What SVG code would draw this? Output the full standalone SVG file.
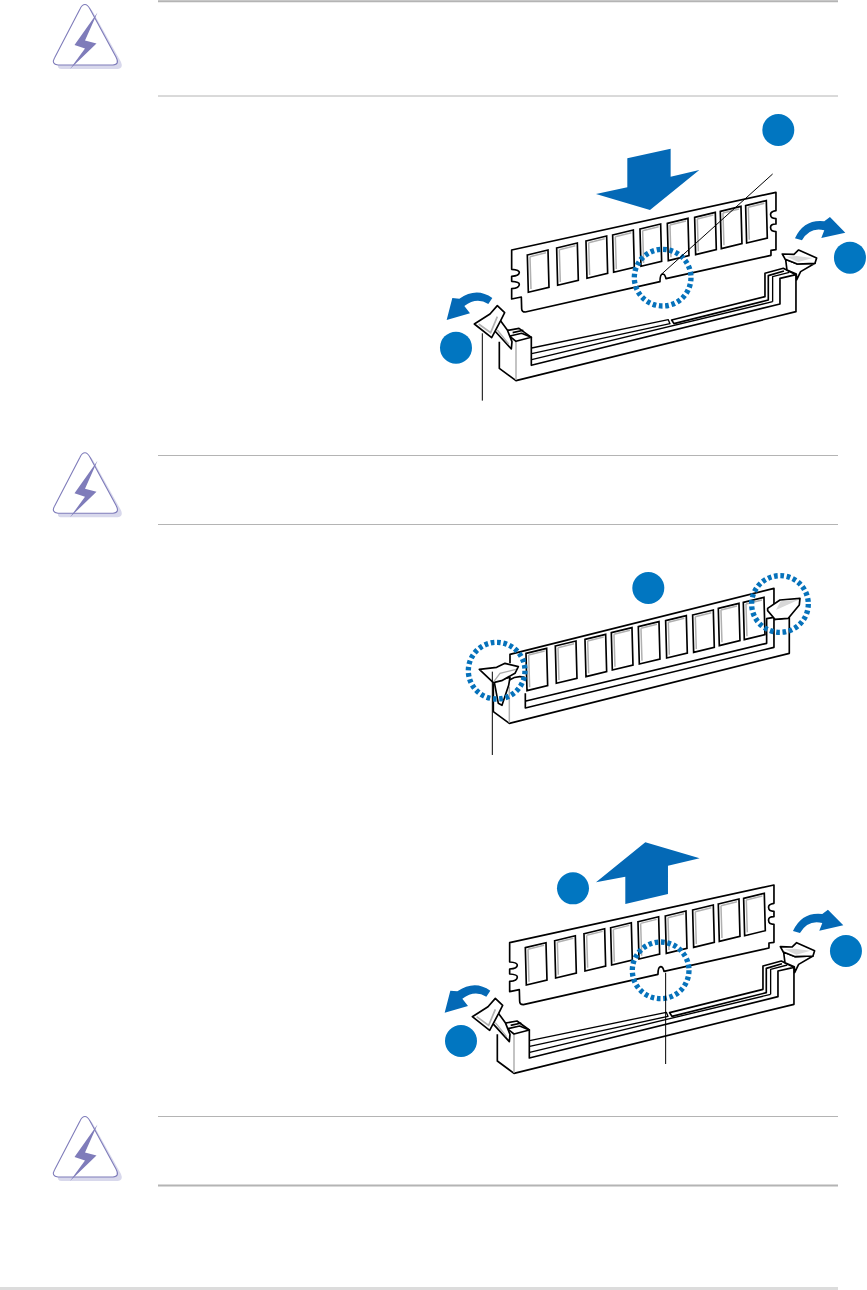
<svg xmlns="http://www.w3.org/2000/svg" width="867" height="1290" viewBox="0 0 867 1290">
<style>
.k{fill:none;stroke:#000;stroke-width:5;stroke-linejoin:round}
.j{fill:none;stroke:#000;stroke-width:4;stroke-linejoin:round}
.w{fill:#fff;stroke:#000;stroke-width:5;stroke-linejoin:round}
.g{fill:none;stroke:#b0b0b0;stroke-width:4.5}
.t{fill:#fff;stroke:#000;stroke-width:5;stroke-linejoin:miter}
.a{fill:#0469b6}
.n{fill:#0176c1}
.d{fill:none;stroke:#0672bb;stroke-width:16;stroke-dasharray:11 8.1}
.l{fill:none;stroke:#000;stroke-width:3}
.r{stroke:#b4b4b4;fill:none}
</style>
<defs>
<g id="warn">
<path d="M85 5 Q88 5 91 10 L119 60 Q121.500 66 116 67 L60 67 Q54 67 57 61 L82 11 Q83.500 6 85 5Z" fill="#d8d8ec" transform="translate(2 2)"/>
<path d="M85 4.500 Q87.500 4.500 90 9 L116 57 Q120 64.500 113 65 L58 65 Q51 64 54.500 58 L80 9 Q82 4.500 85 4.500Z" fill="#fff" stroke="#7f7cba" stroke-width="1.100"/>
<path d="M97.500 12.500 L74.500 45 L85 48.500 L70 69 L96.500 43.500 L85 40.500Z" fill="#7f7cba"/>
</g>
<g id="chip"><path class="t" d="M0 15 L62 0 L65 112 L3 127Z"/><path class="g" d="M8 20 L56 8 M8 20 L11 117"/></g>
<g id="lever1">
<path class="w" d="M222 690 L274 747 L276 725 L262 690 L240 660 Z"/>
<path d="M232 690 L266 732" fill="none" stroke="#b0b0b0" stroke-width="4"/>
<path class="w" d="M163 672 L210 642 L232 617 L254 638 L242 662 L215 713 Z"/>
<path d="M176 672 L212 698 L232 650" fill="none" stroke="#b0b0b0" stroke-width="5"/>
</g>
<g id="lever2">
<path class="w" d="M1097 478 L1101 510 L1129 522 L1130 540 L1142 515 L1185 490 L1132 492 Z"/>
<path class="w" d="M1087 462 L1122 463 L1136 450 L1190 474 L1185 490 L1132 492 L1096 478 Z"/>
<path d="M1100 470 L1130 468 L1178 474 L1135 486Z" fill="#d8d8d8"/>
</g>
<g id="open">
<path class="w" d="M275 450 L1068 277 L1068 332 Q1050 335 1052 345 Q1052 355 1068 356 L1068 372 Q1050 372 1052 384 Q1052 394 1068 395 L1068 449 L1053 451 L1053 466 L738 536 Q735 522 728 522 Q720 523 720 545 L316 636 Q305 636 305 626 L304 591 L275 597 L275 566 Q298 565 298 553 Q298 545 275 544 L275 529 Q298 528 298 517 Q298 510 275 508 Z"/>
<use href="#chip" x="322" y="450"/>
<use href="#chip" x="410" y="429"/>
<use href="#chip" x="498" y="408"/>
<use href="#chip" x="578" y="390"/>
<use href="#chip" x="660" y="372"/>
<use href="#chip" x="742" y="355"/>
<use href="#chip" x="824" y="337"/>
<use href="#chip" x="901" y="319"/>
<use href="#chip" x="977" y="302"/>
<path class="k" d="M238 725 L238 805 L288 842 L1128 635 L1128 525"/>
<path class="g" d="M288 722 L288 840"/>
<path class="k" d="M258 692 L297 685 L334 712 L334 796 L1080 612 L1080 535 L1128 524 L1090 505 L1035 520 L1035 590 L755 660 L762 671 L1045 600 L1045 527 L1092 513"/>
<path class="j" d="M1058 605 L1058 530 L1108 517"/>
<path class="k" d="M270 708 L305 700 L334 712 L288 724 L258 700 M278 698 L310 691"/>
<path class="j" d="M335 744 L745 659 L750 671 L335 761 M335 779 L1058 605"/>
<use href="#lever2"/>
<use href="#lever1"/>
<path class="a" d="M1125 415 Q1152 357 1213 364 L1230 351 L1276 398 L1204 414 L1213 391 Q1170 380 1146 421Z"/>
<path class="a" d="M217 594 Q170 560 118 596 L97 594 L80 660 L150 640 L133 618 Q170 590 205 612Z"/>
<circle class="d" cx="728" cy="533" r="85"/>
</g>
</defs>
<g id="rules">
<path class="r" stroke-width="2" d="M158 1.200H838"/>
<path class="r" stroke-width="1" d="M158 96H838M158 455.500H838M158 524.500H838M158 1116.500H838"/>
<path class="r" stroke-width="2" d="M158 1185.500H838"/>
<rect x="0" y="1287" width="838" height="3" fill="#dcdcdc"/>
</g>
<g id="warning-1"><use href="#warn"/></g>
<g id="warning-2"><use href="#warn" y="448.300"/></g>
<g id="warning-3"><use href="#warn" y="1112"/></g>
<g id="install" transform="translate(420 100) scale(.3333)">
<use href="#open"/>
<path class="a" d="M622 175 L752 146 L752 230 L838 210 L690 330 L528 282 L622 262Z"/>
<circle class="n" cx="1075" cy="90" r="48"/>
<circle class="n" cx="1290" cy="473" r="48"/>
<circle class="n" cx="108" cy="743" r="48"/>
<path class="l" d="M1058 222 L722 525 M187 700 V902"/>
</g>
<g id="seated" transform="translate(420 560) scale(.3333)">
<path class="k" d="M270 310 L270 283 L1062 85 L1062 170"/>
<use href="#chip" x="318" y="265"/><use href="#chip" x="406" y="243"/><use href="#chip" x="495" y="223"/><use href="#chip" x="574" y="203"/><use href="#chip" x="655" y="185"/><use href="#chip" x="737" y="167"/><use href="#chip" x="818" y="150"/><use href="#chip" x="895" y="130"/><use href="#chip" x="970" y="112"/>
<path class="k" d="M220 370 L220 455 L268 490 L1108 280 L1108 172 L1064 178 M316 400 L316 444 L1062 262 L1062 172 L1040 176 L1040 250 L318 423"/>
<path class="g" d="M268 380 V488"/>
<path class="k" d="M268 360 Q290 345 314 352"/>
<path class="w" d="M222 362 L235 430 L246 436 L266 376 L270 352 Z"/>
<path class="w" d="M178 328 L230 322 L255 310 L295 320 L285 340 L245 362 L220 368 Z"/>
<path d="M222 364 L240 340 L288 328" fill="none" stroke="#aaa" stroke-width="4"/>
<path class="w" d="M1043 145 L1080 120 L1140 115 L1138 135 L1105 175 L1065 178 L1043 152 Z"/>
<path d="M1082 124 L1136 119 L1068 150Z" fill="#d8d8d8"/>
<circle class="d" cx="230" cy="332" r="85"/>
<circle class="d" cx="1080" cy="132" r="85"/>
<circle class="n" cx="685" cy="84" r="48"/>
<path class="l" d="M217 335 V585"/>
</g>
<g id="remove" transform="translate(418 792.700) scale(.3333)">
<use href="#open"/>
<path class="a" d="M534 269 L682 149 L845 197 L750 219 L750 304 L622 334 L622 252Z"/>
<circle class="n" cx="465" cy="287" r="48"/>
<circle class="n" cx="1284" cy="475" r="48"/>
<circle class="n" cx="129" cy="745" r="48"/>
<path class="l" d="M743 540 V814"/>
</g>
</svg>
